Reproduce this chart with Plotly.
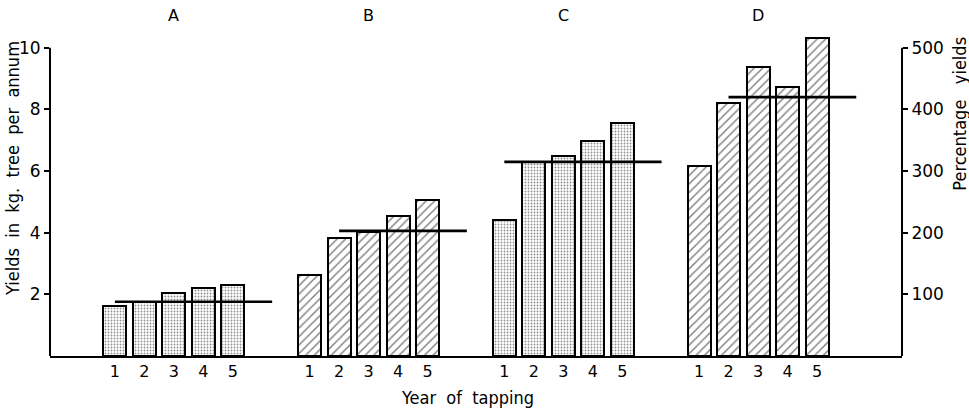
"""
Yields per tree over the first five years of tapping, four clone groups.
"""

import plotly.graph_objects as go

# data
groups = ['A', 'B', 'C', 'D']
years = [1, 2, 3, 4, 5]
year_labels = ['1', '2', '3', '4', '5']
yields_a = [1.62, 1.76, 2.03, 2.21, 2.29]
yields_b = [2.62, 3.84, 4.02, 4.55, 5.05]
yields_c = [4.40, 6.30, 6.48, 6.97, 7.55]
yields_d = [6.16, 8.22, 9.38, 8.74, 10.32]
group_means = [1.76, 4.06, 6.30, 8.40]
mean_from_year = [1, 2, 1, 2]
pct_ticks = [100, 200, 300, 400, 500]
kg_ticks = [2, 4, 6, 8, 10]

group_yields = [yields_a, yields_b, yields_c, yields_d]
group_fill = ['.', '/', '.', '/']

GROUP_GAP = 6.6
KG_TOP = 10.45          # a bit of headroom so the tallest bar is not clipped
PCT_PER_KG = 50
FONT = 'DejaVu Sans, Liberation Sans, Arial, sans-serif'
TITLE_FONT = 'DejaVu Sans Condensed, Liberation Sans Narrow, Arial, sans-serif'

fig = go.Figure()

tickvals = []
ticktext = []
for gi, (name, vals) in enumerate(zip(groups, group_yields)):
    xs = [y + gi * GROUP_GAP for y in years]
    tickvals += xs
    ticktext += year_labels
    if group_fill[gi] == '.':
        pattern = dict(shape='.', size=3, solidity=0.3, fgcolor='#222', bgcolor='white')
    else:
        pattern = dict(shape='/', size=6, solidity=0.24, fgcolor='black', bgcolor='white')
    fig.add_trace(go.Bar(
        x=xs,
        y=vals,
        width=0.78,
        marker=dict(color='white', pattern=pattern,
                    line=dict(color='black', width=2)),
        showlegend=False,
    ))

# group mean lines drawn over the bars
for gi, mean in enumerate(group_means):
    x0 = mean_from_year[gi] + gi * GROUP_GAP
    x1 = years[-1] + 1.33 + gi * GROUP_GAP
    fig.add_trace(go.Scatter(
        x=[x0, x1], y=[mean, mean], mode='lines',
        line=dict(color='black', width=2.6),
        showlegend=False,
    ))

# dummy trace so the percentage axis is drawn
fig.add_trace(go.Scatter(x=[], y=[], yaxis='y2', showlegend=False))

title_font = dict(family=TITLE_FONT, size=18)
annotations = []
for gi, name in enumerate(groups):
    annotations.append(dict(
        x=3 + gi * GROUP_GAP, y=1.058, xref='x', yref='paper',
        xanchor='center', yanchor='middle',
        text=name, showarrow=False, font=dict(size=16)))
annotations += [
    dict(x=-0.0434, y=0.581, xref='paper', yref='paper', textangle=-90,
         xanchor='center', yanchor='middle',
         text='Yields  in  kg.  tree  per  annum', showarrow=False, font=title_font),
    dict(x=1.068, y=0.7525, xref='paper', yref='paper', textangle=-90,
         xanchor='center', yanchor='middle',
         text='Percentage   yields', showarrow=False, font=title_font),
    dict(x=0.4906, y=-0.1286, xref='paper', yref='paper',
         xanchor='center', yanchor='middle',
         text='Year  of  tapping', showarrow=False, font=title_font),
]

# axis lines only run up to the 10 kg / 500 % tick
shapes = [
    dict(type='line', xref='paper', yref='y', x0=0, x1=0, y0=0, y1=10,
         line=dict(color='black', width=2)),
    dict(type='line', xref='paper', yref='y', x0=1, x1=1, y0=0, y1=10,
         line=dict(color='black', width=2)),
]

fig.update_layout(
    width=969, height=409,
    margin=dict(l=50, r=67, t=34, b=53),
    paper_bgcolor='white', plot_bgcolor='white',
    font=dict(family=FONT, color='black', size=16),
    bargap=0,
    xaxis=dict(
        range=[-1.2, 27.68], showgrid=False, zeroline=False,
        showline=True, linecolor='black', linewidth=2,
        tickvals=tickvals, ticktext=ticktext, ticks='', ticklen=0,
        tickfont=dict(size=16),
    ),
    yaxis=dict(
        range=[0, KG_TOP], showgrid=False, zeroline=False, showline=False,
        tickvals=kg_ticks, ticks='outside', ticklen=5, tickwidth=1.5,
        tickcolor='black', tickfont=dict(size=17),
    ),
    yaxis2=dict(
        range=[0, KG_TOP * PCT_PER_KG], overlaying='y', side='right', anchor='x',
        showgrid=False, zeroline=False, showline=False,
        tickvals=pct_ticks, ticks='outside', ticklen=5, tickwidth=1.5,
        tickcolor='black', tickfont=dict(size=17),
    ),
    shapes=shapes,
    annotations=annotations,
)

# drop the default body margin so the figure sits at the page corner
fig.write_html("out.html", config={'displayModeBar': False},
               post_script="document.body.style.margin = '0';")
